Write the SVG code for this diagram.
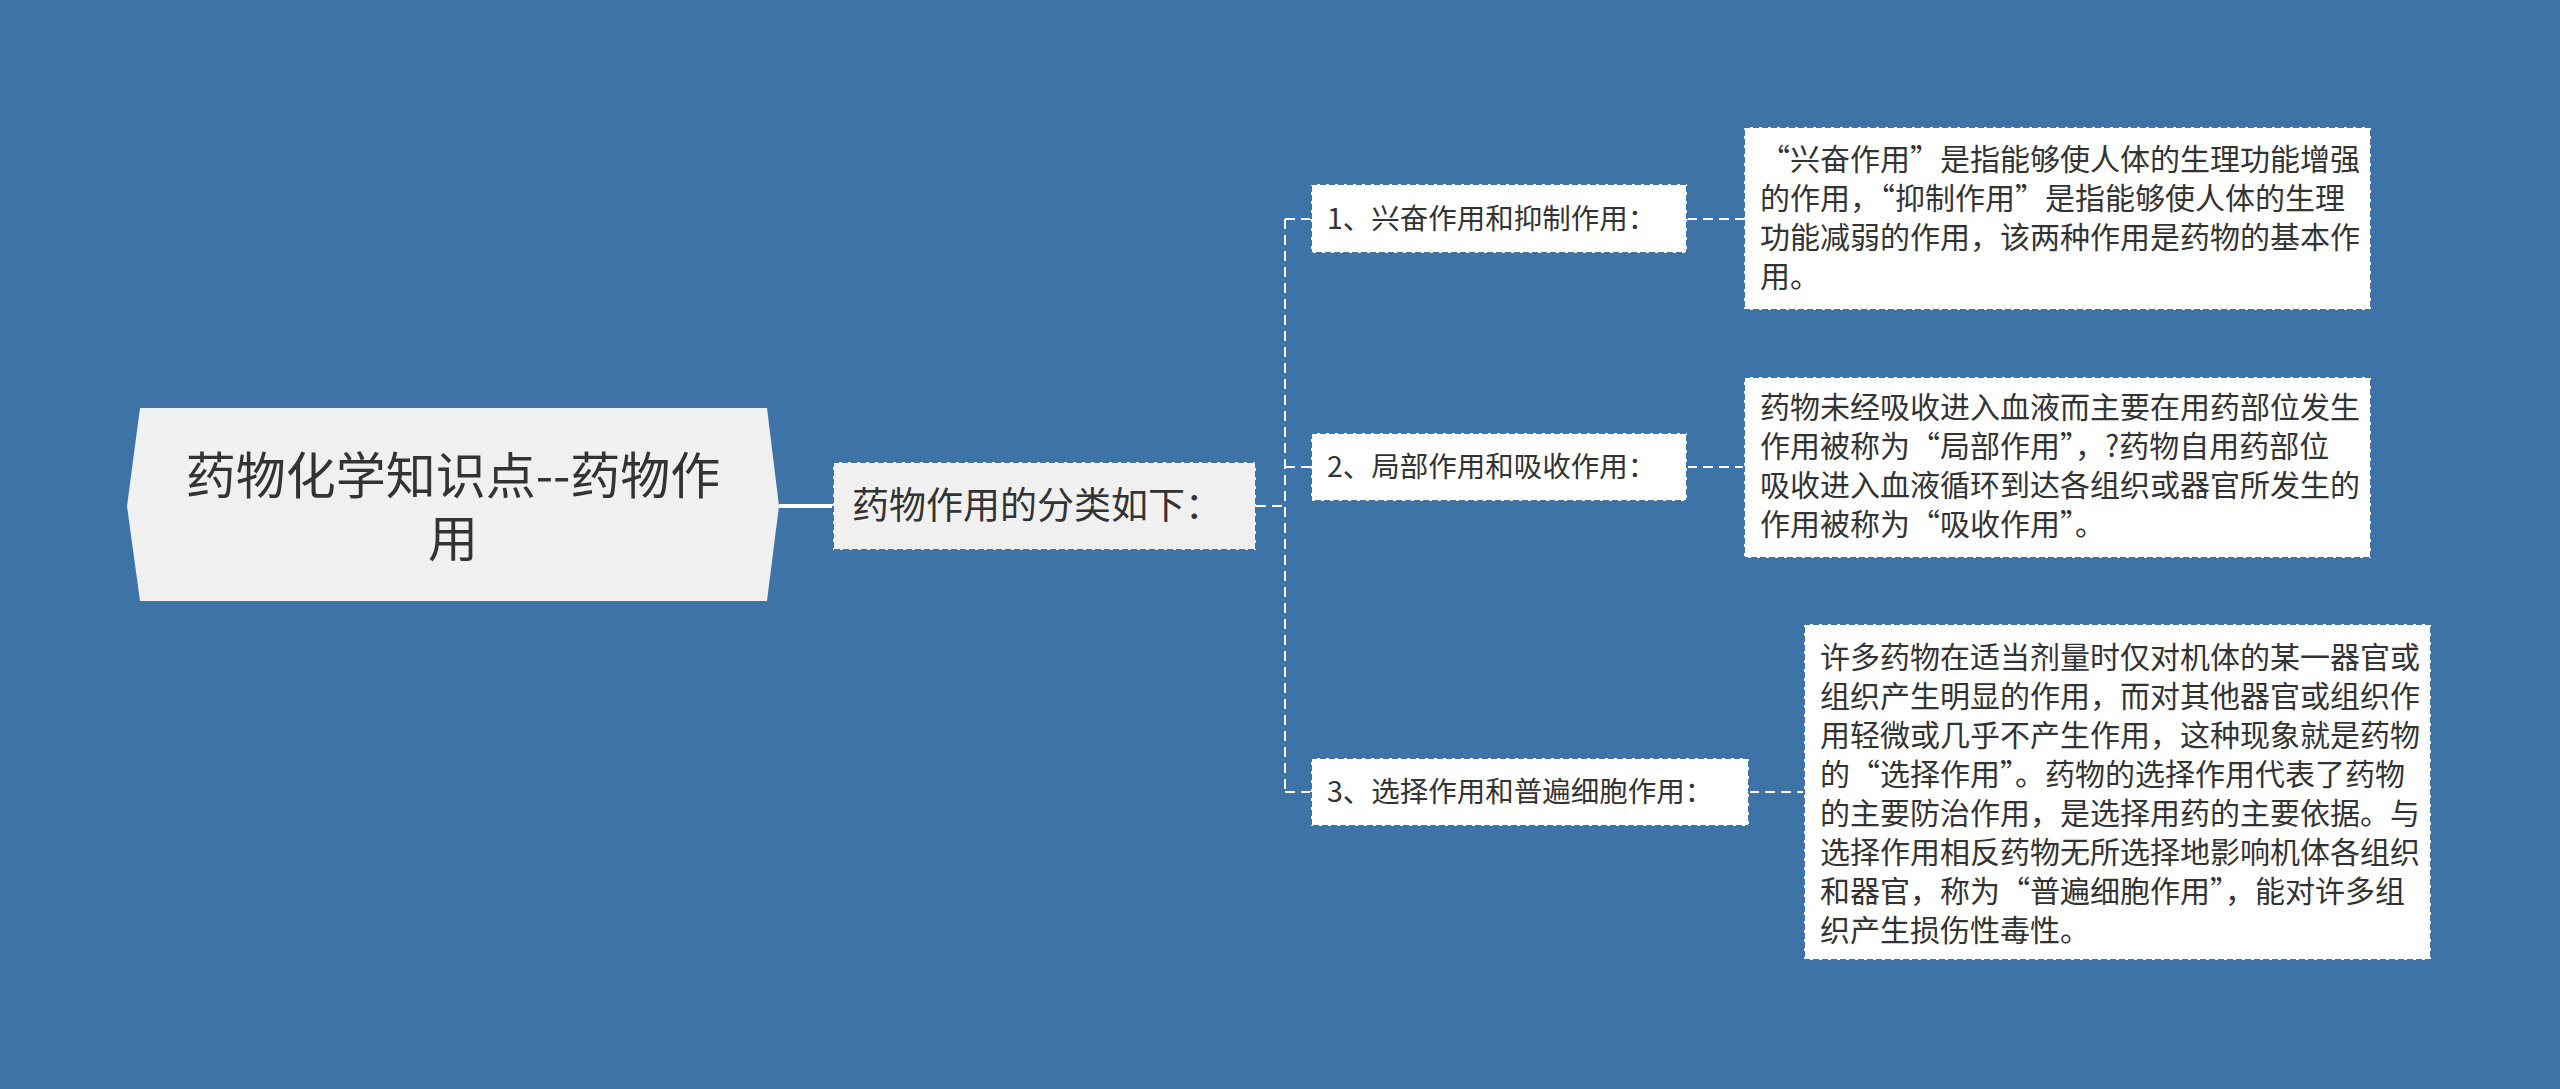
<svg xmlns="http://www.w3.org/2000/svg" width="2560" height="1089" viewBox="0 0 2560 1089">
<style>
text{font-family:"Noto Sans CJK SC","Liberation Sans",sans-serif;fill:#333}
.box{fill:#fff;stroke:#3d73a6;stroke-width:2;stroke-dasharray:6 3}
.l1{fill:#f0f0f0;stroke:#3d73a6;stroke-width:2;stroke-dasharray:6 3}
.dash{fill:none;stroke:#fff;stroke-width:2;stroke-dasharray:10 6}
.t2{font-size:28.5px}
.t3{font-size:30px}
</style>
<rect width="2560" height="1089" fill="#3d73a6"/>
<g id="connectors">
<line x1="779" y1="506" x2="833" y2="506" stroke="#fff" stroke-width="4"/>
<path class="dash" d="M1256 506H1285M1285 219V792M1285 219H1311M1285 467H1311M1285 792H1311M1687 219H1744M1687 467H1744M1749 792H1804"/>
</g>
<g id="root">
<polygon points="140,408 767,408 779,506 767,601 140,601 127,506" fill="#f0f0f0"/>
<text x="453" y="494" font-size="50" text-anchor="middle">药物化学知识点--药物作</text>
<text x="453" y="557" font-size="50" text-anchor="middle">用</text>
</g>
<g id="n1">
<rect class="l1" x="833" y="462" width="423" height="88"/>
<text x="852" y="519" font-size="37">药物作用的分类如下：</text>
</g>
<g id="n2">
<rect class="box" x="1311" y="184" width="376" height="69"/>
<text class="t2" x="1327" y="229">1、兴奋作用和抑制作用：</text>
</g>
<g id="n3">
<rect class="box" x="1311" y="433" width="376" height="68"/>
<text class="t2" x="1327" y="477">2、局部作用和吸收作用：</text>
</g>
<g id="n4">
<rect class="box" x="1311" y="758" width="438" height="68"/>
<text class="t2" x="1327" y="802">3、选择作用和普遍细胞作用：</text>
</g>
<g id="leaf1">
<rect class="box" x="1744" y="127" width="627" height="183"/>
<text class="t3" x="1760" y="170">“兴奋作用”是指能够使人体的生理功能增强</text>
<text class="t3" x="1760" y="209">的作用，“抑制作用”是指能够使人体的生理</text>
<text class="t3" x="1760" y="248">功能减弱的作用，该两种作用是药物的基本作</text>
<text class="t3" x="1760" y="287">用。</text>
</g>
<g id="leaf2">
<rect class="box" x="1744" y="377" width="627" height="181"/>
<text class="t3" x="1760" y="418">药物未经吸收进入血液而主要在用药部位发生</text>
<text class="t3" x="1760" y="457">作用被称为“局部作用”，?药物自用药部位</text>
<text class="t3" x="1760" y="496">吸收进入血液循环到达各组织或器官所发生的</text>
<text class="t3" x="1760" y="535">作用被称为“吸收作用”。</text>
</g>
<g id="leaf3">
<rect class="box" x="1804" y="624" width="627" height="336"/>
<text class="t3" x="1820" y="668">许多药物在适当剂量时仅对机体的某一器官或</text>
<text class="t3" x="1820" y="707">组织产生明显的作用，而对其他器官或组织作</text>
<text class="t3" x="1820" y="746">用轻微或几乎不产生作用，这种现象就是药物</text>
<text class="t3" x="1820" y="785">的“选择作用”。药物的选择作用代表了药物</text>
<text class="t3" x="1820" y="824">的主要防治作用，是选择用药的主要依据。与</text>
<text class="t3" x="1820" y="863">选择作用相反药物无所选择地影响机体各组织</text>
<text class="t3" x="1820" y="902">和器官，称为“普遍细胞作用”，能对许多组</text>
<text class="t3" x="1820" y="941">织产生损伤性毒性。</text>
</g>
</svg>
